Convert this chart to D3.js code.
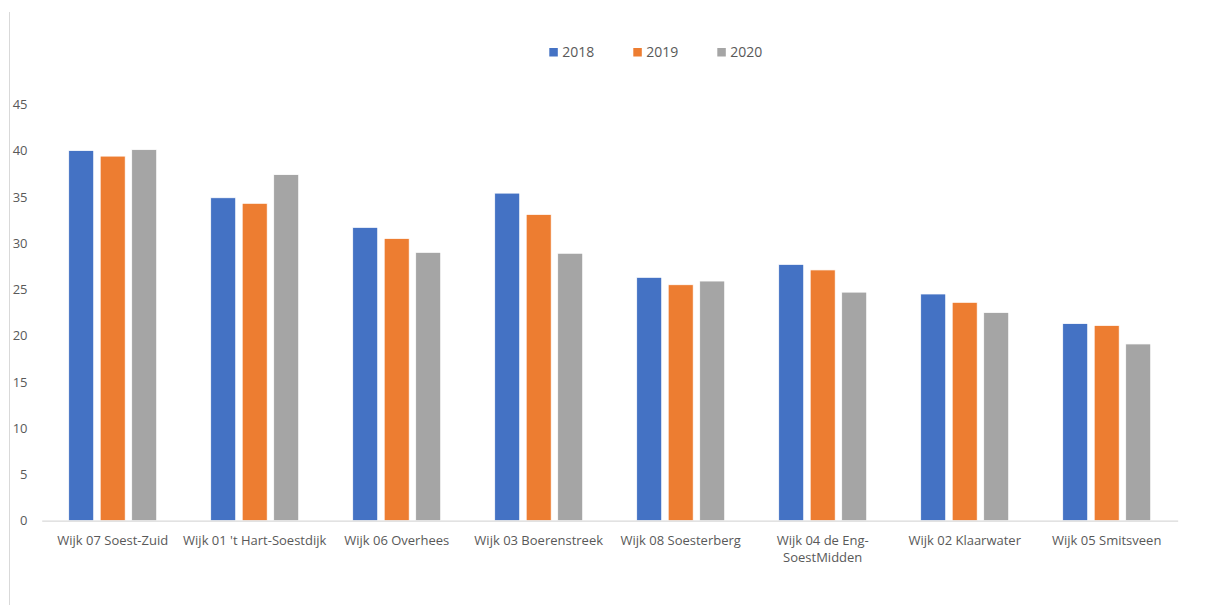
<!DOCTYPE html>
<html>
<head>
<meta charset="utf-8">
<script src="https://cdn.jsdelivr.net/npm/d3@7/dist/d3.min.js"></script>
<style>
  html, body { margin: 0; padding: 0; background: #fff; }
  svg { display: block; font-family: "Open Sans", sans-serif; }
</style>
</head>
<body>
<svg id="chart" width="1215" height="605"></svg>
<script>
const categories = [
  "Wijk 07 Soest-Zuid",
  "Wijk 01 't Hart-Soestdijk",
  "Wijk 06 Overhees",
  "Wijk 03 Boerenstreek",
  "Wijk 08 Soesterberg",
  "Wijk 04 de Eng-SoestMidden",
  "Wijk 02 Klaarwater",
  "Wijk 05 Smitsveen"
];
const seriesNames = ["2018", "2019", "2020"];
const values2018 = [40.0, 34.9, 31.7, 35.4, 26.3, 27.7, 24.5, 21.3];
const values2019 = [39.4, 34.3, 30.5, 33.1, 25.5, 27.1, 23.6, 21.1];
const values2020 = [40.1, 37.4, 29.0, 28.9, 25.9, 24.7, 22.5, 19.1];
const yTicks = [0, 5, 10, 15, 20, 25, 30, 35, 40, 45];
const colors = ["#4472C4", "#ED7D31", "#A5A5A5"];

const seriesValues = [values2018, values2019, values2020];
const svg = d3.select("#chart");

const plot = { left: 41.7, right: 1177.7, top: 104.3, bottom: 520.7 };

const y = d3.scaleLinear().domain([0, 45]).range([plot.bottom, plot.top]);
const x0 = d3.scaleBand().domain(categories).range([plot.left, plot.right])
  .paddingInner(54 / 142).paddingOuter(27 / 142);
const x1 = d3.scaleBand().domain(seriesNames).range([0, x0.bandwidth()])
  .paddingInner(6.5 / 31.5).paddingOuter(0);
const color = d3.scaleOrdinal().domain(seriesNames).range(colors);

// left border line
svg.append("line")
  .attr("x1", 9.5).attr("x2", 9.5).attr("y1", 12).attr("y2", 605)
  .attr("stroke", "#D9D9D9").attr("stroke-width", 1);

// y axis labels
const yAxis = d3.axisLeft(y).tickValues(yTicks).tickSize(0).tickPadding(0);
const gy = svg.append("g").attr("transform", "translate(27.5,0)").call(yAxis);
gy.select(".domain").remove();
gy.selectAll("text").attr("fill", "#595959").style("font-size", "13px")
  .style("font-family", "'Open Sans', sans-serif");

// bars
const data = categories.map((c, i) => ({
  cat: c,
  vals: seriesNames.map((s, j) => ({ s, v: seriesValues[j][i] }))
}));

const groups = svg.append("g").selectAll("g").data(data).join("g")
  .attr("transform", d => `translate(${x0(d.cat)},0)`);
groups.selectAll("rect").data(d => d.vals).join("rect")
  .attr("x", d => x1(d.s))
  .attr("width", x1.bandwidth())
  .attr("y", d => y(d.v))
  .attr("height", d => y(0) - y(d.v))
  .attr("fill", d => color(d.s))
  .attr("stroke", "#fff").attr("stroke-width", 0.75);

// x axis
const xAxis = d3.axisBottom(x0).tickSize(0).tickPadding(0);
const gx = svg.append("g").attr("transform", `translate(0,${plot.bottom})`).call(xAxis);
gx.select(".domain").attr("stroke", "#D9D9D9").attr("stroke-width", 1.3);
gx.selectAll("text").attr("fill", "#595959").style("font-size", "13px")
  .style("font-family", "'Open Sans', sans-serif")
  .attr("y", 0).attr("dy", null)
  .each(function(d) {
    const t = d3.select(this);
    t.text(null);
    const full = d;
    t.append("tspan").attr("x", 0).attr("y", 24).text(full);
    const w = this.getComputedTextLength();
    if (w > 146 && full.lastIndexOf("-") > 0) {
      const k = full.lastIndexOf("-") + 1;
      t.text(null);
      t.append("tspan").attr("x", 0).attr("y", 24).text(full.slice(0, k));
      t.append("tspan").attr("x", 0).attr("y", 41).text(full.slice(k));
    }
  });

// legend
const legend = svg.append("g");
const legendX = [549.3, 633.3, 717.3];
seriesNames.forEach((s, i) => {
  const g = legend.append("g").attr("transform", `translate(${legendX[i]},48)`);
  g.append("rect").attr("width", 8.5).attr("height", 8.5).attr("fill", color(s));
  g.append("text").attr("x", 13).attr("y", 4.3).attr("dy", "0.35em")
    .attr("fill", "#595959").style("font-size", "14px").text(s);
});
</script>
</body>
</html>
